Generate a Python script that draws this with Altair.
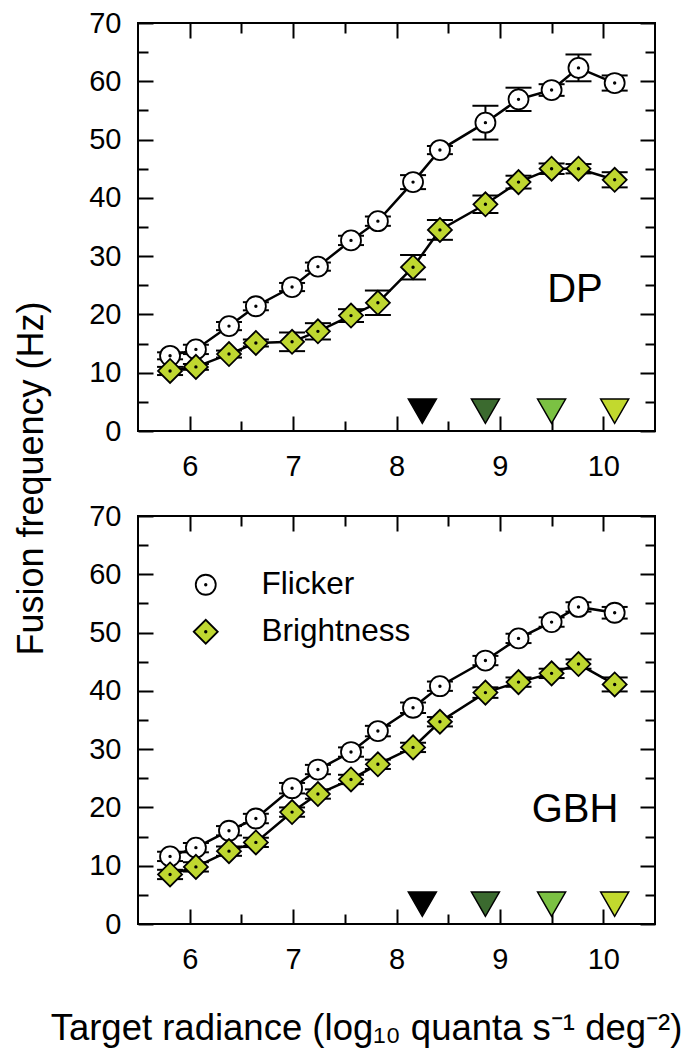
import altair as alt
import pandas as pd

# ---------------- data ----------------
radiance = [5.81, 6.06, 6.38, 6.64, 6.99, 7.24, 7.56, 7.82, 8.16, 8.42, 8.86, 9.18, 9.50, 9.76, 10.11]

dp_flicker = [12.9, 14.0, 18.0, 21.4, 24.7, 28.2, 32.7, 36.0, 42.7, 48.2, 52.9, 56.9, 58.5, 62.3, 59.7]
dp_flicker_err = [0.6, 0.8, 0.7, 0.7, 0.7, 0.7, 0.8, 0.8, 1.2, 0.7, 2.9, 2.0, 1.0, 2.3, 1.3]
dp_bright = [10.3, 11.0, 13.2, 15.1, 15.3, 17.1, 19.8, 22.0, 28.1, 34.5, 38.9, 42.7, 45.0, 45.0, 43.1]
dp_bright_err = [0.7, 0.5, 0.6, 0.6, 1.6, 1.4, 1.1, 2.1, 2.1, 1.7, 1.5, 1.1, 0.9, 0.8, 1.3]

gbh_flicker = [11.6, 13.1, 16.0, 18.1, 23.3, 26.5, 29.5, 33.1, 37.1, 40.8, 45.2, 49.0, 51.8, 54.4, 53.4]
gbh_flicker_err = [0.8, 0.8, 0.8, 0.8, 0.9, 0.8, 0.8, 0.9, 0.9, 0.8, 0.8, 0.8, 0.8, 0.8, 1.0]
gbh_bright = [8.5, 9.8, 12.5, 14.0, 19.2, 22.3, 24.8, 27.4, 30.3, 34.7, 39.7, 41.5, 43.0, 44.6, 41.1]
gbh_bright_err = [0.8, 0.8, 0.8, 0.8, 0.8, 0.8, 0.8, 0.8, 0.8, 0.8, 0.9, 0.8, 0.8, 0.8, 1.2]

marker_radiance = [8.25, 8.86, 9.50, 10.11]
marker_level = [3.4, 3.4, 3.4, 3.4]
marker_names = ["m1", "m2", "m3", "m4"]

series_names = ["Flicker", "Brightness"]
panel_names = ["DP", "GBH"]

x_tick_values = [6, 6.5, 7, 7.5, 8, 8.5, 9, 9.5, 10]
y_tick_values = [0, 5, 10, 15, 20, 25, 30, 35, 40, 45, 50, 55, 60, 65, 70]

# ---------------- styles ----------------
FONT = "Liberation Sans"
GREEN = "#bfd730"
MARKER_COLORS = ["#000000", "#3b6a2f", "#7bc143", "#c2d92e"]
CIRCLE_DOT = ("M1,0 A1,1 0 1,1 -1,0 A1,1 0 1,1 1,0 Z "
              "M0.08,0 A0.08,0.08 0 1,1 -0.08,0 A0.08,0.08 0 1,1 0.08,0 Z")
DIAMOND_DOT = ("M-1.2,0 L0,-1.2 L1.2,0 L0,1.2 Z "
               "M0.08,0 A0.08,0.08 0 1,1 -0.08,0 A0.08,0.08 0 1,1 0.08,0 Z")

W, H = 517, 408
X_DOM = [5.5, 10.5]
Y_DOM = [0, 70]


def xscale():
    return alt.Scale(domain=X_DOM, nice=False, zero=False)


def yscale():
    return alt.Scale(domain=Y_DOM, nice=False, zero=False)


X_TICK = {"expr": "datum.value % 1 === 0 ? -15 : -10"}
Y_TICK = {"expr": "datum.value % 10 === 0 ? -15 : -10"}


def make_df(flk, flk_err, brt, brt_err):
    rows = []
    for name, vals, errs in [(series_names[0], flk, flk_err), (series_names[1], brt, brt_err)]:
        for r, v, e in zip(radiance, vals, errs):
            rows.append({"radiance": r, "freq": v, "lo": v - e, "hi": v + e, "series": name})
    return pd.DataFrame(rows)


markers_df = pd.DataFrame({"radiance": marker_radiance, "level": marker_level, "name": marker_names})


def panel(df, label, is_bottom, label_y):
    bottom_axis = alt.Axis(
        orient="bottom", values=x_tick_values, tickSize=X_TICK, tickWidth=2, tickColor="black",
        domain=False, grid=False,
        labelExpr="datum.value % 1 === 0 ? format(datum.value, 'd') : ''",
        labelFont=FONT, labelFontSize=29, labelColor="black", labelPadding=36,
        labelFlush=False, labelOverlap=False,
        title="Target radiance (log\u2081\u2080 quanta s\u207b\u00b9 deg\u207b\u00b2)" if is_bottom else None,
        titleFont=FONT, titleFontSize=36.5, titleFontWeight="normal", titleColor="black",
        titleX=228, titleY=104, titleAlign="center", titleBaseline="middle",
    )
    left_axis = alt.Axis(
        orient="left", values=y_tick_values, tickSize=Y_TICK, tickWidth=2, tickColor="black",
        domain=False, grid=False, labelExpr="datum.value % 10 === 0 ? datum.label : ''",
        labelFont=FONT, labelFontSize=29, labelColor="black", labelPadding=32,
        labelFlush=False, labelOverlap=False,
        title=None if is_bottom else "Fusion frequency (Hz)",
        titleFont=FONT, titleFontSize=36, titleFontWeight="normal", titleColor="black",
        titleX=-107, titleY=455, titleAlign="center", titleBaseline="middle", titleAngle=270,
    )
    top_axis = alt.Axis(orient="top", values=x_tick_values, tickSize=X_TICK, tickWidth=2, tickColor="black",
                        domain=False, grid=False, labels=False, title=None, minExtent=0, maxExtent=0)
    right_axis = alt.Axis(orient="right", values=y_tick_values, tickSize=Y_TICK, tickWidth=2, tickColor="black",
                          domain=False, grid=False, labels=False, title=None, minExtent=0, maxExtent=0)

    base = alt.Chart(df)
    lines = base.mark_line(color="black", strokeWidth=2.5).encode(
        x=alt.X("radiance:Q", scale=xscale(), axis=bottom_axis),
        y=alt.Y("freq:Q", scale=yscale(), axis=left_axis),
        detail="series:N",
    )
    frame = base.mark_point(opacity=0).encode(
        x=alt.X("radiance:Q", scale=xscale(), axis=top_axis),
        y=alt.Y("freq:Q", scale=yscale(), axis=right_axis),
    )
    err = base.mark_rule(color="black", strokeWidth=2).encode(
        x=alt.X("radiance:Q", scale=xscale(), axis=None),
        y=alt.Y("lo:Q", scale=yscale(), axis=None),
        y2="hi:Q",
    )
    cap_lo = base.mark_tick(orient="horizontal", size=26, thickness=2, color="black", opacity=1).encode(
        x=alt.X("radiance:Q", scale=xscale(), axis=None),
        y=alt.Y("lo:Q", scale=yscale(), axis=None),
    )
    cap_hi = base.mark_tick(orient="horizontal", size=26, thickness=2, color="black", opacity=1).encode(
        x=alt.X("radiance:Q", scale=xscale(), axis=None),
        y=alt.Y("hi:Q", scale=yscale(), axis=None),
    )
    if is_bottom:
        leg = alt.Legend(
            orient="none", legendX=52, legendY=53, title=None,
            labelFont=FONT, labelFontSize=31.5, labelColor="black", labelOffset=40,
            symbolSize=400, symbolStrokeWidth=1.8,
            rowPadding=14, padding=0,
        )
    else:
        leg = None
    pts = base.mark_point(filled=True, size=400, strokeWidth=1.8, opacity=1).encode(
        x=alt.X("radiance:Q", scale=xscale(), axis=None),
        y=alt.Y("freq:Q", scale=yscale(), axis=None),
        shape=alt.Shape("series:N", scale=alt.Scale(domain=series_names, range=[CIRCLE_DOT, DIAMOND_DOT]),
                        legend=leg),
        fill=alt.Fill("series:N", scale=alt.Scale(domain=series_names, range=["white", GREEN]),
                      legend=leg),
        stroke=alt.Stroke("series:N", scale=alt.Scale(domain=series_names, range=["black", "black"]),
                          legend=leg),
    )
    markers = alt.Chart(markers_df).mark_point(
        shape="triangle-down", filled=True, size=784, stroke="black", strokeWidth=1.5, opacity=1
    ).encode(
        x=alt.X("radiance:Q", scale=xscale(), axis=None),
        y=alt.Y("level:Q", scale=yscale(), axis=None),
        color=alt.Color("name:N", scale=alt.Scale(domain=marker_names, range=MARKER_COLORS), legend=None),
    )
    text = alt.Chart(pd.DataFrame({"panel": [label]})).mark_text(
        font=FONT, fontSize=40, color="black", align="center", baseline="alphabetic"
    ).encode(x=alt.value(437), y=alt.value(label_y), text="panel:N")

    return alt.layer(lines, frame, err, cap_lo, cap_hi, pts, markers, text).resolve_scale(
        x="independent", y="independent"
    ).properties(width=W, height=H)


top = panel(make_df(dp_flicker, dp_flicker_err, dp_bright, dp_bright_err), panel_names[0], False, 279)
bottom = panel(make_df(gbh_flicker, gbh_flicker_err, gbh_bright, gbh_bright_err), panel_names[1], True, 306)

chart = alt.vconcat(top, bottom, spacing=85, bounds="flush").resolve_scale(
    shape="independent", fill="independent", stroke="independent", color="independent"
).properties(
    padding={"left": 4, "top": 0, "right": 0, "bottom": 3}
).configure(background="white").configure_view(stroke="black", strokeWidth=2)

chart.save("out.html", embed_options={"renderer": "svg", "actions": False})
